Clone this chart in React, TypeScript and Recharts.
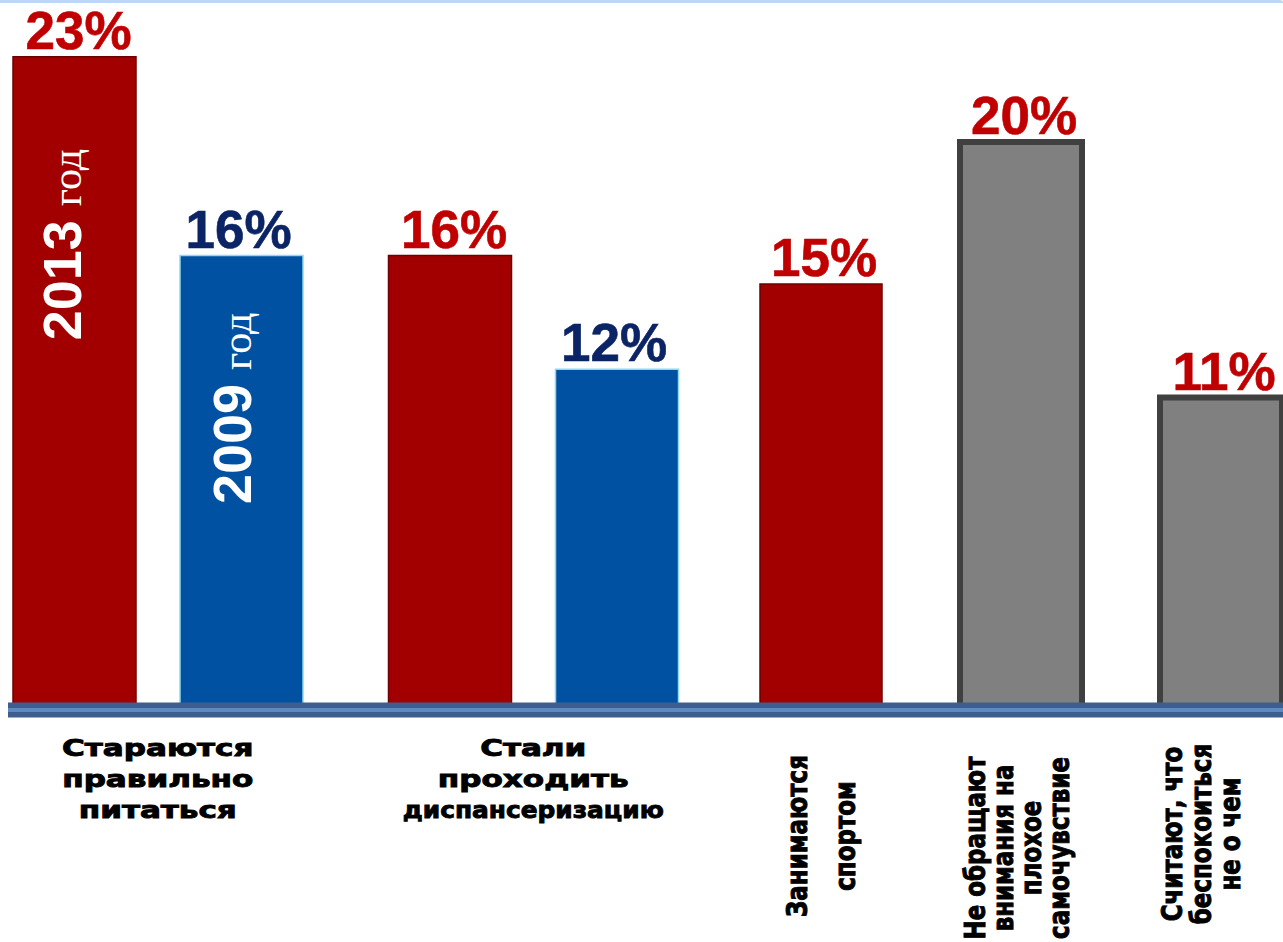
import React from "react";
import { BarChart, Bar, XAxis, YAxis, Cell, LabelList, ReferenceLine } from "recharts";

// ---- data ----
const categoriesA = ["Стараются правильно питаться", "Стали проходить диспансеризацию"];
const labelLinesA = [
  ["Стараются", "правильно", "питаться"],
  ["Стали", "проходить", "диспансеризацию"],
];
const values2013 = [23, 16];
const values2009 = [16, 12];
const yearLabels = ["2013", "2009"];
const yearWord = "год";

const categoriesB = [
  "Занимаются спортом",
  "Не обращают внимания на плохое самочувствие",
  "Считают, что беспокоиться не о чем",
];
const labelLinesB = [
  ["Занимаются", "спортом"],
  ["Не обращают", "внимания на", "плохое", "самочувствие"],
  ["Считают, что", "беспокоиться", "не о чем"],
];
const valuesB = [15, 20, 11];
const kindsB = ["2013", "other", "other"];

// ---- styles ----
const RED = "#a20000";
const RED_EDGE = "#6e0000";
const BLUE = "#0051a1";
const BLUE_EDGE = "#8fd8ee";
const GRAY = "#808080";
const GRAY_EDGE = "#404040";
const LABEL_RED = "#c00000";
const LABEL_NAVY = "#0b2465";
const SANS = "'Liberation Sans', Arial, sans-serif";
const HEAVY = "'DejaVu Sans', sans-serif";
const SERIF = "'Liberation Serif', 'Times New Roman', serif";

const rotStyles = [
  { pitch: 48, cy: 836, dx: 0 },
  { pitch: 28, cy: 848, dx: -4 },
  { pitch: 29, cy: 834, dx: -20 },
];

const dataA = categoriesA.map((name, i) => ({ name, y2013: values2013[i], y2009: values2009[i] }));
const dataB = categoriesB.map((name, i) => ({ name, value: valuesB[i], kind: kindsB[i] }));

const H = 942;
const MARGIN = { top: 0, right: 0, left: 0, bottom: 0 };

function geom(props: any) {
  const vb = props.viewBox || {};
  return {
    x: props.x ?? vb.x,
    y: props.y ?? vb.y,
    width: props.width ?? vb.width,
    height: props.height ?? vb.height,
  };
}

const makeValueLabel = (color: string, dx: number) => (props: any) => {
  const { x, y, width } = geom(props);
  if (props.value == null) return null;
  return (
    <text
      x={x + width / 2 + dx}
      y={y - 8}
      textAnchor="middle"
      fill={color}
      stroke={color}
      strokeWidth={0.6}
      fontFamily={SANS}
      fontWeight="bold"
      fontSize={53}
    >
      {props.value}%
    </text>
  );
};

const makeYearLabel = (year: string, dx: number, endOffset: number) => (props: any) => {
  const { x, y, width } = geom(props);
  if (props.index !== 0) return null;
  return (
    <text
      transform={`translate(${x + width / 2 + dx},${y + endOffset}) rotate(-90)`}
      textAnchor="end"
      fill="#ffffff"
    >
      <tspan fontFamily={SANS} fontWeight="bold" fontSize={54}>
        {year}
      </tspan>
      <tspan fontFamily={SERIF} fontSize={42} dx={14}>
        {yearWord}
      </tspan>
    </text>
  );
};

const TickA = (props: any) => {
  const { x, y, payload } = props;
  const idx = categoriesA.indexOf(payload.value);
  const lines = labelLinesA[idx] || [];
  return (
    <g>
      {lines.map((line, i) => {
        const sx = line.length > 12 ? 1.08 : 1.35;
        return (
          <text
            key={i}
            transform={`translate(${x},${y + 46 + i * 31}) scale(${sx},1)`}
            textAnchor="middle"
            fill="#000"
            stroke="#000"
            strokeWidth={0.9}
            fontFamily={HEAVY}
            fontWeight="bold"
            fontSize={23}
          >
            {line}
          </text>
        );
      })}
    </g>
  );
};

const TickB = (props: any) => {
  const { x, payload } = props;
  const idx = categoriesB.indexOf(payload.value);
  const lines = labelLinesB[idx] || [];
  const st = rotStyles[idx] || rotStyles[0];
  const n = lines.length;
  return (
    <g>
      {lines.map((line, i) => {
        const lx = x + st.dx + (i - (n - 1) / 2) * st.pitch;
        return (
          <text
            key={i}
            transform={`translate(${lx},${st.cy}) rotate(-90) scale(0.82,1)`}
            textAnchor="middle"
            dominantBaseline="central"
            fill="#000"
            stroke="#000"
            strokeWidth={1}
            fontFamily={HEAVY}
            fontWeight="bold"
            fontSize={28}
          >
            {line}
          </text>
        );
      })}
    </g>
  );
};

export default function App() {
  return (
    <div
      style={{
        position: "absolute",
        left: 0,
        top: 0,
        width: 1283,
        height: H,
        overflow: "hidden",
        background: "#ffffff",
      }}
    >
      <div style={{ position: "absolute", left: -30, top: 0, width: 751, height: H }}>
        <BarChart width={751} height={H} data={dataA} margin={MARGIN} barGap={44}>
          <YAxis hide domain={[0, 25]} />
          <Bar dataKey="y2013" fill={RED} stroke={RED_EDGE} strokeWidth={1.5} barSize={123} isAnimationActive={false}>
            <LabelList dataKey="y2013" content={makeValueLabel(LABEL_RED, 4)} />
            <LabelList dataKey="y2013" content={makeYearLabel(yearLabels[0], 6, 92)} />
          </Bar>
          <Bar dataKey="y2009" fill={BLUE} stroke={BLUE_EDGE} strokeWidth={1.5} barSize={123} isAnimationActive={false}>
            <LabelList dataKey="y2009" content={makeValueLabel(LABEL_NAVY, -3)} />
            <LabelList dataKey="y2009" content={makeYearLabel(yearLabels[1], 9, 57)} />
          </Bar>
          <XAxis
            dataKey="name"
            axisLine={false}
            tickLine={false}
            tickSize={0}
            tickMargin={0}
            interval={0}
            height={232}
            tick={<TickA />}
          />
          <ReferenceLine y={0} stroke="#3e5f8e" strokeWidth={15} />
          <ReferenceLine y={0} stroke="#5e8ac4" strokeWidth={4} />
        </BarChart>
      </div>
      <div style={{ position: "absolute", left: 721, top: 0, width: 600, height: H }}>
        <BarChart width={600} height={H} data={dataB} margin={MARGIN}>
          <YAxis hide domain={[0, 25]} />
          <Bar dataKey="value" barSize={122} isAnimationActive={false}>
            {dataB.map((d, i) => (
              <Cell
                key={i}
                fill={d.kind === "2013" ? RED : GRAY}
                stroke={d.kind === "2013" ? RED_EDGE : GRAY_EDGE}
                strokeWidth={d.kind === "2013" ? 1.5 : 6}
              />
            ))}
            <LabelList dataKey="value" content={makeValueLabel(LABEL_RED, 3)} />
          </Bar>
          <XAxis
            dataKey="name"
            axisLine={false}
            tickLine={false}
            tickSize={0}
            tickMargin={0}
            interval={0}
            height={232}
            tick={<TickB />}
          />
          <ReferenceLine y={0} stroke="#3e5f8e" strokeWidth={15} />
          <ReferenceLine y={0} stroke="#5e8ac4" strokeWidth={4} />
        </BarChart>
      </div>
      <div style={{ position: "absolute", left: 0, top: 695, width: 8, height: 30, background: "#ffffff" }} />
      <div
        style={{
          position: "absolute",
          left: 0,
          top: 0,
          width: 1283,
          height: 3,
          background: "#bcd6f4",
          borderTopRightRadius: 8,
        }}
      />
    </div>
  );
}
